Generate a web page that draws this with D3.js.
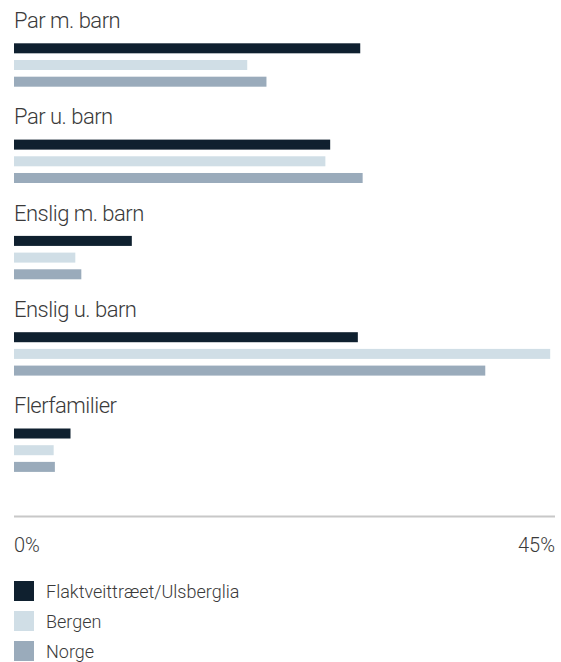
<!DOCTYPE html>
<html>
<head>
<meta charset="utf-8">
<script src="https://cdn.jsdelivr.net/npm/d3@7"></script>
<style>
  body { margin: 0; background: #fff; }
  text { font-family: Roboto, "Liberation Sans", sans-serif; font-weight: 300; fill: #3a3a3a; }
</style>
</head>
<body>
<script>
var categories = ["Par m. barn", "Par u. barn", "Enslig m. barn", "Enslig u. barn", "Flerfamilier"];
var series = ["Flaktveittræet/Ulsberglia", "Bergen", "Norge"];
var local = [28.8, 26.3, 9.8, 28.6, 4.7];
var bergen = [19.4, 25.9, 5.1, 44.6, 3.3];
var norge = [21.0, 29.0, 5.6, 39.2, 3.4];
var tickLabels = ["0%", "45%"];
var colors = ["#0f202f", "#d0dee6", "#9aabbb"];

var values = [local, bergen, norge];
var width = 561, height = 662;
var left = 14, right = 555;

var svg = d3.select("body").append("svg")
  .attr("width", width)
  .attr("height", height);

var x = d3.scaleLinear().domain([0, 45]).range([left, right]);
var y = d3.scaleBand().domain(categories).range([0, 481.5]).paddingInner(0).paddingOuter(0);
var sub = d3.scaleBand().domain(series).range([43.3, 86.7]).paddingInner(0.4);

var group = svg.selectAll(".group")
  .data(categories)
  .enter().append("g")
    .attr("class", "group")
    .attr("transform", function(d) { return "translate(0," + y(d) + ")"; });

group.append("text")
  .attr("x", left)
  .attr("y", 28)
  .style("font-size", "22px")
  .style("letter-spacing", "-0.5px")
  .text(function(d) { return d; });

group.each(function(c, i) {
  d3.select(this).selectAll("rect")
    .data(series)
    .enter().append("rect")
      .attr("x", x(0))
      .attr("y", function(s) { return sub(s); })
      .attr("height", sub.bandwidth())
      .attr("width", function(s, j) { return x(values[j][i]) - x(0); })
      .attr("fill", function(s, j) { return colors[j]; });
});

// axis
var axis = svg.append("g").attr("class", "x-axis");
axis.append("line")
  .attr("x1", x(0)).attr("x2", x(45))
  .attr("y1", 516.5).attr("y2", 516.5)
  .attr("stroke", "#c8c8c8")
  .attr("stroke-width", 2);

axis.selectAll("text")
  .data([0, 45])
  .enter().append("text")
    .attr("x", function(d) { return x(d); })
    .attr("y", 552)
    .attr("text-anchor", function(d, i) { return i === 0 ? "start" : "end"; })
    .style("font-size", "20px")
    .text(function(d, i) { return tickLabels[i]; });

// legend
var legend = svg.selectAll(".legend")
  .data(series)
  .enter().append("g")
    .attr("class", "legend")
    .attr("transform", function(d, i) { return "translate(" + left + "," + (581 + i * 30) + ")"; });

legend.append("rect")
  .attr("width", 20)
  .attr("height", 20)
  .attr("fill", function(d, i) { return colors[i]; });

legend.append("text")
  .attr("x", 32)
  .attr("y", 17)
  .style("font-size", "18px")
  .text(function(d) { return d; });
</script>
</body>
</html>
